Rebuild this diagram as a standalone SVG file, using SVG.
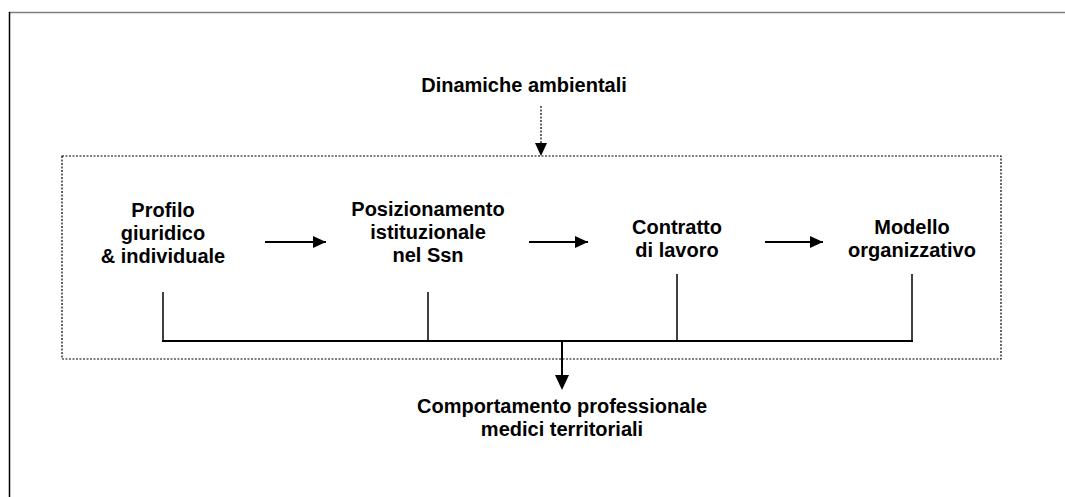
<svg xmlns="http://www.w3.org/2000/svg" width="1065" height="497" viewBox="0 0 1065 497">
<style>
text{font-family:"Liberation Sans",Arial,sans-serif;font-weight:bold;font-size:20px;fill:#000;text-anchor:middle}
.ln{stroke:#000;stroke-width:1.5;fill:none}
.hl{stroke:#000;stroke-width:2;fill:none}
.dot{stroke:#000;stroke-width:1.2;stroke-dasharray:2 1.5;fill:none}
</style>
<defs>
<marker id="ah" viewBox="0 0 13 12" refX="13" refY="6" markerWidth="13" markerHeight="12" markerUnits="userSpaceOnUse" orient="auto"><path d="M0,0 L13,6 L0,12 z" fill="#000"/></marker>
</defs>
<rect x="0" y="0" width="1065" height="497" fill="#fff"/>
<g id="frame">
<line x1="9" y1="12.5" x2="1065" y2="12.5" stroke="#808080" stroke-width="1.5"/>
<line x1="9.5" y1="12" x2="9.5" y2="497" stroke="#000" stroke-width="1.5"/>
</g>
<g id="env-box"><rect x="62" y="156" width="939" height="203" class="dot"/></g>
<g id="n-dinamiche"><text x="524" y="92">Dinamiche ambientali</text></g>
<g id="n-profilo"><text x="163" y="217">Profilo</text><text x="163" y="240">giuridico</text><text x="163" y="263">&amp; individuale</text></g>
<g id="n-posizionamento"><text x="428" y="216">Posizionamento</text><text x="428" y="239">istituzionale</text><text x="428" y="262">nel Ssn</text></g>
<g id="n-contratto"><text x="677" y="234">Contratto</text><text x="677" y="257">di lavoro</text></g>
<g id="n-modello"><text x="912" y="234">Modello</text><text x="912" y="257">organizzativo</text></g>
<g id="n-comportamento"><text x="562" y="413">Comportamento professionale</text><text x="562" y="436">medici territoriali</text></g>
<g id="connectors">
<line x1="541" y1="106" x2="541" y2="143" class="dot"/>
<path d="M535,143 L547,143 L541,156 z" fill="#000"/>
<line x1="265" y1="242" x2="326" y2="242" class="hl" marker-end="url(#ah)"/>
<line x1="529" y1="242" x2="588" y2="242" class="hl" marker-end="url(#ah)"/>
<line x1="765" y1="242" x2="823" y2="242" class="hl" marker-end="url(#ah)"/>
<line x1="163" y1="292" x2="163" y2="341" class="ln"/>
<line x1="428" y1="292" x2="428" y2="341" class="ln"/>
<line x1="677" y1="274" x2="677" y2="341" class="ln"/>
<line x1="912" y1="274" x2="912" y2="341" class="ln"/>
<line x1="162" y1="341" x2="913" y2="341" class="hl"/>
<line x1="562" y1="341" x2="562" y2="376" class="hl"/>
<path d="M555,375 L569,375 L562,390 z" fill="#000"/>
</g>
</svg>
